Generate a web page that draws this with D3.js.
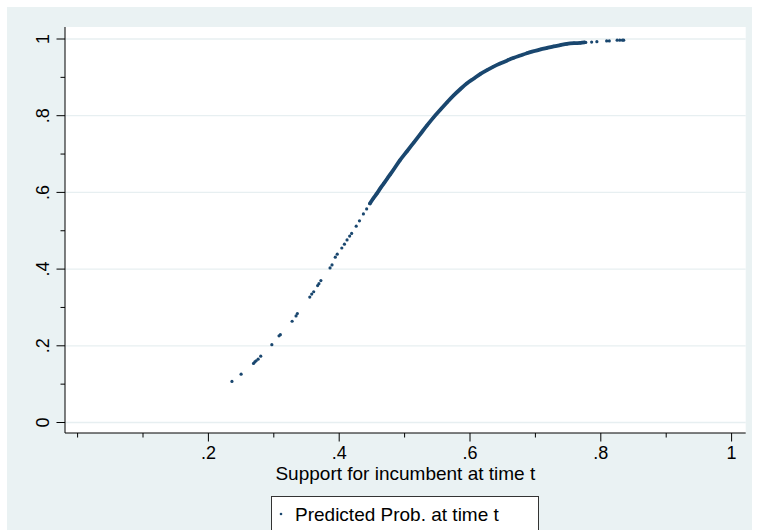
<!DOCTYPE html>
<html>
<head>
<meta charset="utf-8">
<script src="https://cdn.jsdelivr.net/npm/d3@7/dist/d3.min.js"></script>
<style>
  html, body { margin: 0; padding: 0; background: #fff; }
  svg { display: block; font-family: 'Liberation Sans', Arial, sans-serif; }
</style>
</head>
<body>
<div id="chart"></div>
<script>
// tick values and labels
const xTicks = [0.2, 0.4, 0.6, 0.8, 1];
const xTickLabels = ['.2', '.4', '.6', '.8', '1'];
const xMinorTicks = [0, 0.1, 0.3, 0.5, 0.7, 0.9];
const yTicks = [0, 0.2, 0.4, 0.6, 0.8, 1];
const yTickLabels = ['0', '.2', '.4', '.6', '.8', '1'];
const yMinorTicks = [0.1, 0.3, 0.5, 0.7, 0.9];

const xTitle = 'Support for incumbent at time t';
const legendLabel = 'Predicted Prob. at time t';

// support for incumbent (x) and predicted probability (y)
const support = [
  0.236, 0.250, 0.269, 0.271, 0.273, 0.276, 0.280, 0.297, 0.308, 0.310,
  0.328, 0.334, 0.336, 0.355, 0.358, 0.361, 0.367, 0.369, 0.372, 0.386,
  0.389, 0.394, 0.397, 0.404, 0.408, 0.412, 0.416, 0.419, 0.426, 0.431,
  0.437, 0.442, 0.447, 0.452, 0.458, 0.463, 0.468, 0.473, 0.478, 0.483,
  0.493, 0.504, 0.514, 0.524, 0.534, 0.544, 0.555, 0.565, 0.575, 0.585,
  0.595, 0.606, 0.616, 0.626, 0.636, 0.646, 0.657, 0.667, 0.677, 0.687,
  0.697, 0.708, 0.718, 0.728, 0.738, 0.748, 0.759, 0.769, 0.775, 0.777,
  0.786, 0.794, 0.809, 0.813, 0.825, 0.829, 0.833, 0.835
];
const predicted = [
  0.107, 0.126, 0.154, 0.158, 0.161, 0.165, 0.173, 0.203, 0.226, 0.229,
  0.264, 0.278, 0.284, 0.327, 0.335, 0.341, 0.357, 0.362, 0.370, 0.403,
  0.411, 0.431, 0.439, 0.455, 0.465, 0.476, 0.486, 0.493, 0.512, 0.526,
  0.544, 0.557, 0.571, 0.584, 0.598, 0.611, 0.623, 0.635, 0.647, 0.659,
  0.684, 0.708, 0.730, 0.752, 0.774, 0.795, 0.816, 0.835, 0.853, 0.869,
  0.884, 0.897, 0.909, 0.919, 0.928, 0.936, 0.944, 0.951, 0.957, 0.963,
  0.968, 0.973, 0.977, 0.981, 0.984, 0.987, 0.989, 0.990, 0.991, 0.991,
  0.992, 0.993, 0.995, 0.995, 0.997, 0.997, 0.997, 0.997
];
// the stretch where the markers overlap into a solid band
const denseFrom = 0.445;
const denseTo = 0.776;

class ScatterChart {

  constructor(d3, id) {
    this.d3 = d3;
    this.width = 759;
    this.height = 530;
    this.scene = this.d3.select('#' + id).append('svg')
        .attr('width', this.width)
        .attr('height', this.height);
    this.frame = {left: 65, right: 745.7, top: 27, bottom: 433};
    this.x = d3.scaleLinear().domain([0, 1]).range([77.6, 731.6]);
    this.y = d3.scaleLinear().domain([0, 1]).range([422.5, 39]);
    this.color = '#1a476f';
  }

  drawBackground() {
    this.scene.append('rect')
        .attr('x', 7).attr('y', 7)
        .attr('width', 745).attr('height', this.height - 7)
        .attr('fill', '#eaf2f3');
    const f = this.frame;
    this.scene.append('rect')
        .attr('x', f.left).attr('y', f.top)
        .attr('width', f.right - f.left).attr('height', f.bottom - f.top)
        .attr('fill', '#fff');
    this.scene.append('g').selectAll('line')
        .data(yTicks)
        .join('line')
        .attr('x1', f.left).attr('x2', f.right)
        .attr('y1', d => this.y(d)).attr('y2', d => this.y(d))
        .attr('stroke', '#e7eff1')
        .attr('stroke-width', 1.3);
  }

  drawAxes() {
    const f = this.frame;
    const xAxis = this.scene.append('g')
        .attr('transform', 'translate(0,' + f.bottom + ')');
    xAxis.append('line')
        .attr('x1', f.left).attr('x2', f.right)
        .attr('stroke', '#000');
    xAxis.selectAll('.major')
        .data(xTicks)
        .join('line')
        .attr('class', 'major')
        .attr('x1', d => this.x(d)).attr('x2', d => this.x(d))
        .attr('y2', 8.5)
        .attr('stroke', '#000');
    xAxis.selectAll('.minor')
        .data(xMinorTicks)
        .join('line')
        .attr('class', 'minor')
        .attr('x1', d => this.x(d)).attr('x2', d => this.x(d))
        .attr('y2', 4.5)
        .attr('stroke', '#000');
    xAxis.selectAll('text')
        .data(xTicks)
        .join('text')
        .attr('x', d => this.x(d))
        .attr('y', 26)
        .attr('text-anchor', 'middle')
        .attr('font-size', 18)
        .text((d, i) => xTickLabels[i]);

    const yAxis = this.scene.append('g')
        .attr('transform', 'translate(' + f.left + ',0)');
    yAxis.append('line')
        .attr('y1', f.top).attr('y2', f.bottom)
        .attr('stroke', '#000');
    yAxis.selectAll('.major')
        .data(yTicks)
        .join('line')
        .attr('class', 'major')
        .attr('y1', d => this.y(d)).attr('y2', d => this.y(d))
        .attr('x2', -8.5)
        .attr('stroke', '#000');
    yAxis.selectAll('.minor')
        .data(yMinorTicks)
        .join('line')
        .attr('class', 'minor')
        .attr('y1', d => this.y(d)).attr('y2', d => this.y(d))
        .attr('x2', -4.5)
        .attr('stroke', '#000');
    yAxis.selectAll('text')
        .data(yTicks)
        .join('text')
        .attr('transform', d => 'translate(-16,' + this.y(d) + ') rotate(-90)')
        .attr('text-anchor', 'middle')
        .attr('font-size', 18)
        .text((d, i) => yTickLabels[i]);

    this.scene.append('text')
        .attr('x', (f.left + f.right) / 2)
        .attr('y', 480)
        .attr('text-anchor', 'middle')
        .attr('font-size', 19)
        .text(xTitle);
  }

  drawPoints() {
    const pts = support.map((s, i) => ({x: s, y: predicted[i]}));
    const dense = pts.filter(p => p.x >= denseFrom && p.x <= denseTo);
    const line = this.d3.line()
        .x(p => this.x(p.x))
        .y(p => this.y(p.y))
        .curve(this.d3.curveMonotoneX);
    this.scene.append('path')
        .attr('d', line(dense))
        .attr('fill', 'none')
        .attr('stroke', this.color)
        .attr('stroke-width', 3.8)
        .attr('stroke-linecap', 'round');
    this.scene.append('g').selectAll('circle')
        .data(pts)
        .join('circle')
        .attr('cx', p => this.x(p.x))
        .attr('cy', p => this.y(p.y))
        .attr('r', 1.6)
        .attr('fill', this.color);
  }

  drawLegend() {
    const g = this.scene.append('g');
    g.append('rect')
        .attr('x', 271.5).attr('y', 496.5)
        .attr('width', 267).attr('height', 40)
        .attr('fill', '#fff')
        .attr('stroke', '#333');
    g.append('circle')
        .attr('cx', 281).attr('cy', 514)
        .attr('r', 1.3)
        .attr('fill', this.color);
    g.append('text')
        .attr('x', 295).attr('y', 521)
        .attr('font-size', 19)
        .text(legendLabel);
  }
}

const chart = new ScatterChart(d3, 'chart');
chart.drawBackground();
chart.drawAxes();
chart.drawPoints();
chart.drawLegend();
</script>
</body>
</html>
